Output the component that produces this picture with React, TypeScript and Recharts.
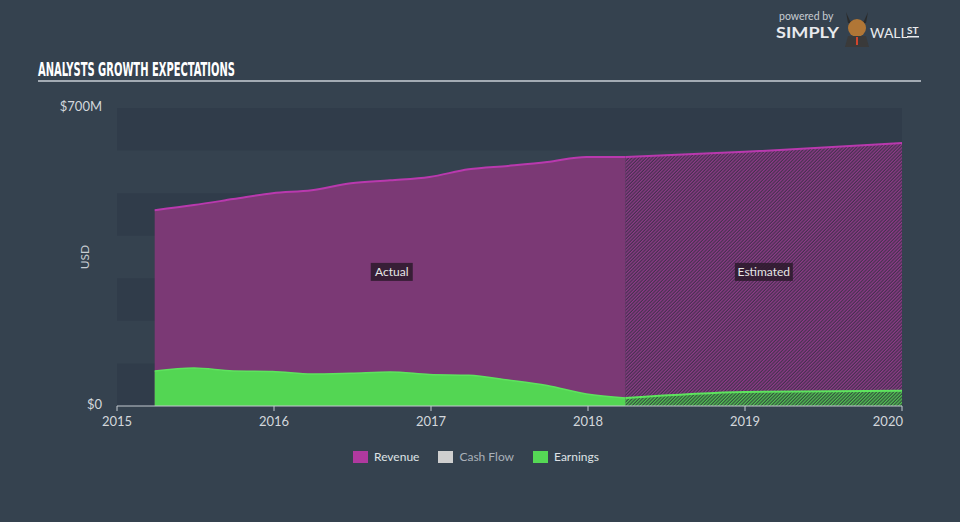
import { Area, ComposedChart, Label, ReferenceArea, ReferenceDot, XAxis, YAxis } from "recharts";

// quarter ends, as fractional years
const dates = [2015.24, 2015.49, 2015.74, 2015.99, 2016.24, 2016.49, 2016.74, 2016.99, 2017.24, 2017.49, 2017.74, 2017.99, 2018.24, 2019.0, 2020.0];

// $M
const revenueActual = [460, 472, 486, 500, 507, 523, 530, 538, 556, 564, 573, 585, 585, null, null];
const revenueEstimate = [null, null, null, null, null, null, null, null, null, null, null, null, 585, 597, 618];
const earningsActual = [82, 89, 82, 81, 75, 77, 80, 74, 72, 61, 48, 28, 19, null, null];
const earningsEstimate = [null, null, null, null, null, null, null, null, null, null, null, null, 19, 33, 36];

const yearTicks = [2015, 2016, 2017, 2018, 2019, 2020];
const valueTicks = [0, 700];
const bands = [[0, 100], [200, 300], [400, 500], [600, 700]];

const legendItems = [
    { name: "Revenue", color: "#b0399f", dim: false },
    { name: "Cash Flow", color: "#cfcfcf", dim: true },
    { name: "Earnings", color: "#55d855", dim: false },
];

const data = dates.map((t, i) => ({
    t,
    revA: revenueActual[i],
    revE: revenueEstimate[i],
    earnA: earningsActual[i],
    earnE: earningsEstimate[i],
}));

const BG = "#35424f";
const BAND = "#303c4a";
const FONT = "Lato, 'Open Sans', sans-serif";

function TagLabel({ viewBox, text, w }: any) {
    const cx = viewBox.x + (viewBox.width || 0) / 2;
    const cy = viewBox.y + (viewBox.height || 0) / 2;
    return (
        <g>
            <rect x={cx - w / 2} y={cy - 9} width={w} height={18} fill="#2c1a2c" fillOpacity={0.85} />
            <text x={cx} y={cy + 4} textAnchor="middle" fill="#e6e6e6" fontSize={12} fontFamily={FONT}>
                {text}
            </text>
        </g>
    );
}

// last year label sits flush against the right end of the axis
function YearTick({ x, y, payload }: any) {
    const last = payload.value === yearTicks[yearTicks.length - 1];
    return (
        <text x={last ? x + 1 : x} y={y + 4} dy="0.71em" textAnchor={last ? "end" : "middle"} fill="#d3d7dc" fontSize={13} fontFamily={FONT}>
            {payload.value}
        </text>
    );
}

export default function App() {
    return (
        <div style={{ position: "absolute", left: 0, top: 0, width: 960, height: 522, background: BG, overflow: "hidden" }}>
            {/* title + logo */}
            <svg width={960} height={100} style={{ position: "absolute", left: 0, top: 0 }}>
                <text x={38} y={76} fill="#ffffff" fontSize={19} fontWeight="bold" fontFamily="'Liberation Sans Narrow', 'DejaVu Sans Condensed', sans-serif" textLength={197} lengthAdjust="spacingAndGlyphs">
                    ANALYSTS GROWTH EXPECTATIONS
                </text>
                <rect x={38} y={80} width={883} height={2} fill="#a3abb4" />

                <text x={779} y={20} fill="#c8cdd3" fontSize={10.5} fontFamily={FONT}>powered by</text>
                <text x={776} y={38} fill="#e8eaed" fontSize={16} fontWeight="bold" fontFamily={FONT} textLength={63} lengthAdjust="spacingAndGlyphs">SIMPLY</text>
                <path d="M846 12 L850 21 L864 21 L868 12 L866 23 L848 23 Z" fill="#2b2b2b" />
                <ellipse cx={857} cy={28} rx={9} ry={9} fill="#b07636" />
                <path d="M845 47 L848 36 L866 36 L869 47 Z" fill="#3a3a3a" />
                <rect x={856} y={37} width={2} height={8} fill="#d2452d" />
                <text x={870} y={38} fill="#e8eaed" fontSize={14} fontFamily={FONT}>WALL</text>
                <text x={907} y={34} fill="#e8eaed" fontSize={10} fontWeight="bold" fontFamily={FONT}>ST</text>
                <rect x={907} y={36} width={12} height={1.5} fill="#e8eaed" />
            </svg>

            <div style={{ position: "absolute", left: 0, top: 0 }}>
                <ComposedChart width={960} height={522} data={data} margin={{ top: 108, right: 58, left: 0, bottom: 86 }}>
                    <defs>
                        <pattern id="hatchRev" width="2.4" height="2.4" patternUnits="userSpaceOnUse" patternTransform="rotate(45)">
                            <rect width="2.4" height="2.4" fill="#45314f" />
                            <rect width="1.2" height="2.4" fill="#8e3b88" />
                        </pattern>
                        <pattern id="hatchEarn" width="2.4" height="2.4" patternUnits="userSpaceOnUse" patternTransform="rotate(45)">
                            <rect width="2.4" height="2.4" fill="#33503f" />
                            <rect width="1.2" height="2.4" fill="#52c452" />
                        </pattern>
                    </defs>

                    {bands.map(([a, b]) => (
                        <ReferenceArea key={a} x1={2015} x2={2020} y1={a} y2={b} fill={BAND} fillOpacity={1} stroke="none" />
                    ))}

                    <XAxis
                        type="number"
                        dataKey="t"
                        domain={[2015, 2020]}
                        ticks={yearTicks}
                        height={30}
                        tickSize={5}
                        tick={<YearTick />}
                        axisLine={{ stroke: "#c3c9d0" }}
                        tickLine={{ stroke: "#c3c9d0" }}
                    />
                    <YAxis
                        type="number"
                        domain={[0, 700]}
                        ticks={valueTicks}
                        width={117}
                        axisLine={false}
                        tickLine={false}
                        tickMargin={9}
                        tick={{ fill: "#d3d7dc", fontSize: 13, fontFamily: FONT, dy: -2 }}
                        tickFormatter={(v) => (v === 0 ? "$0" : `$${v}M`)}
                    >
                        <Label value="USD" angle={-90} position="center" dx={26} fill="#c8cdd3" fontSize={12} fontFamily={FONT} />
                    </YAxis>

                    <Area type="monotone" dataKey="revA" fill="#7b3975" fillOpacity={1} stroke="#b939ae" strokeWidth={2} isAnimationActive={false} />
                    <Area type="monotone" dataKey="revE" fill="url(#hatchRev)" fillOpacity={1} stroke="#b939ae" strokeWidth={2} isAnimationActive={false} />
                    <Area type="monotone" dataKey="earnA" fill="#53d653" fillOpacity={1} stroke="#5ee35e" strokeWidth={1.5} isAnimationActive={false} />
                    <Area type="monotone" dataKey="earnE" fill="url(#hatchEarn)" fillOpacity={1} stroke="#5ee35e" strokeWidth={2} isAnimationActive={false} />

                    <ReferenceDot x={2016.75} y={315} r={0} fill="none" stroke="none" label={<TagLabel text="Actual" w={42} />} />
                    <ReferenceDot x={2019.12} y={315} r={0} fill="none" stroke="none" label={<TagLabel text="Estimated" w={58} />} />
                </ComposedChart>
            </div>

            {/* legend */}
            <div style={{ position: "absolute", left: 353, top: 449, display: "flex", alignItems: "center", fontFamily: FONT, fontSize: 12 }}>
                {legendItems.map((item) => (
                    <div key={item.name} style={{ display: "flex", alignItems: "center", marginRight: 19 }}>
                        <span style={{ display: "inline-block", width: 15, height: 12, background: item.color, marginRight: 6 }} />
                        <span style={{ color: item.dim ? "#aab1b9" : "#dfe2e6" }}>{item.name}</span>
                    </div>
                ))}
            </div>
        </div>
    );
}
